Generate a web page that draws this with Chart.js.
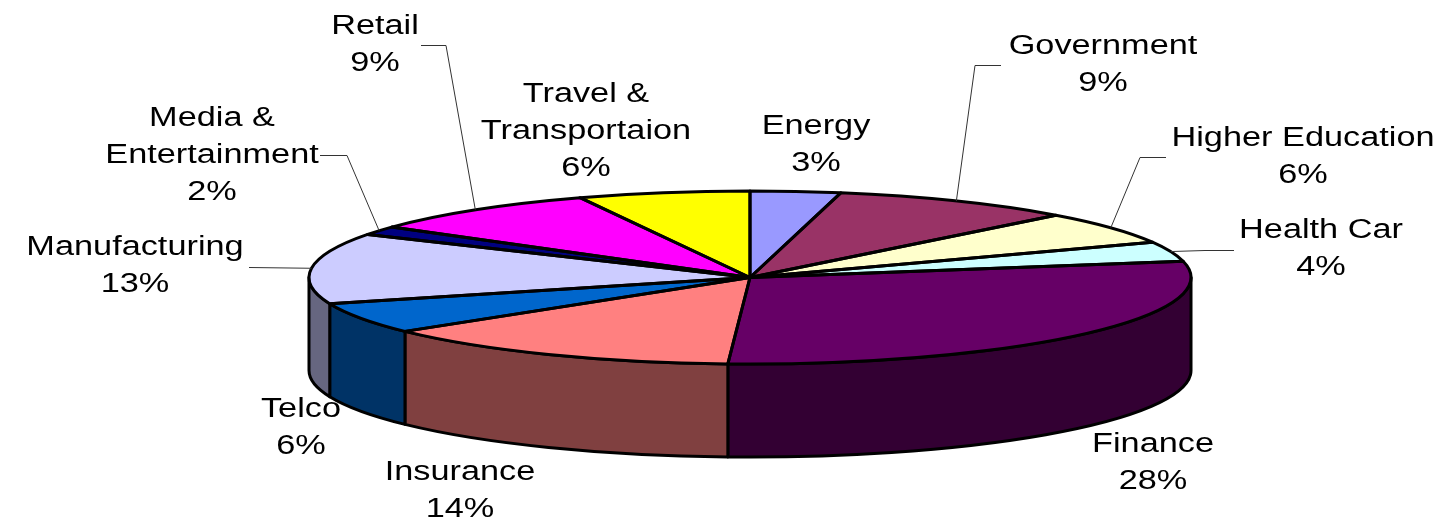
<!DOCTYPE html>
<html lang="en">
<head>
    <meta charset="UTF-8">
    <title>Industry Share</title>
    <script src="https://cdn.jsdelivr.net/npm/chart.js"></script>
    <style>
        body {
            margin: 0;
            background: #fff;
        }

        canvas {
            display: block;
        }
    </style>
</head>
<body>

    <canvas id="pieCanvas" width="1441" height="519"></canvas>

    <script>
        const categories = ["Energy", "Government", "Higher Education", "Health Car", "Finance", "Insurance", "Telco", "Manufacturing", "Media &\nEntertainment", "Retail", "Travel &\nTransportaion"];
        const percentLabels = ["3%", "9%", "6%", "4%", "28%", "14%", "6%", "13%", "2%", "9%", "6%"];
        // slice sizes, a bit finer than the rounded labels
        const shares = [3.3, 8.9, 6.1, 3.7, 28.8, 13.5, 5.8, 13.2, 1.6, 8.8, 6.3];

        const topColors = ["#9999FF", "#993366", "#FFFFCC", "#CCFFFF", "#660066", "#FF8080", "#0066CC", "#CCCCFF", "#000080", "#FF00FF", "#FFFF00"];
        const wallColors = ["#4C4C80", "#4C1933", "#808066", "#668080", "#330033", "#804040", "#003366", "#666680", "#000040", "#800080", "#808000"];

        // label centre x, first line y
        const labelSpots = [[816, 127], [1103, 47], [1303, 139], [1321, 231], [1153, 445], [460, 473], [301, 410], [135, 248], [212, 119], [375, 27], [586, 95]];
        // leader line: start, knee (only some slices have one)
        const leaders = {
            1: [[1001, 65], [975, 65]],
            2: [[1166, 157], [1140, 157]],
            3: [[1234, 250], [1205, 250]],
            7: [[249, 267], [249, 267]],
            8: [[320, 155], [347, 155]],
            9: [[421, 45], [446, 45]]
        };

        const pieX = 750, pieY = 277.5, pieRx = 441, pieRy = 86.5, pieDepth = 93;
        const lineGap = 37, textStretch = 1.27;

        function flatten(ctx, arc) {
            ctx.translate(pieX, pieY);
            ctx.scale(pieRx / arc.outerRadius, pieRy / arc.outerRadius);
            ctx.translate(-arc.x, -arc.y);
        }

        const tiltedPie = {
            id: "tiltedPie",
            beforeDatasetsDraw(chart) {
                const ctx = chart.ctx;
                const arcs = chart.getDatasetMeta(0).data;
                ctx.save();
                ctx.lineWidth = 3;
                ctx.lineJoin = "round";
                ctx.strokeStyle = "#000";
                arcs.forEach((arc, i) => {
                    // only the front half of the rim is visible
                    const from = Math.max(arc.startAngle, 0);
                    const to = Math.min(arc.endAngle, Math.PI);
                    if (to <= from) return;
                    ctx.beginPath();
                    ctx.ellipse(pieX, pieY, pieRx, pieRy, 0, from, to);
                    ctx.ellipse(pieX, pieY + pieDepth, pieRx, pieRy, 0, to, from, true);
                    ctx.closePath();
                    ctx.fillStyle = wallColors[i];
                    ctx.fill();
                    ctx.stroke();
                });
                ctx.restore();
                ctx.save();
                flatten(ctx, arcs[0]);
            },
            afterDatasetsDraw(chart) {
                const ctx = chart.ctx;
                const arcs = chart.getDatasetMeta(0).data;
                ctx.restore();

                ctx.save();
                ctx.lineWidth = 3;
                ctx.lineJoin = "round";
                ctx.strokeStyle = "#000";
                arcs.forEach(arc => {
                    ctx.beginPath();
                    ctx.moveTo(pieX, pieY);
                    ctx.ellipse(pieX, pieY, pieRx, pieRy, 0, arc.startAngle, arc.endAngle);
                    ctx.closePath();
                    ctx.stroke();
                });

                ctx.lineWidth = 1;
                ctx.strokeStyle = "#333";
                Object.keys(leaders).forEach(k => {
                    const arc = arcs[k];
                    const mid = (arc.startAngle + arc.endAngle) / 2;
                    ctx.beginPath();
                    ctx.moveTo(leaders[k][0][0], leaders[k][0][1] + 0.5);
                    ctx.lineTo(leaders[k][1][0], leaders[k][1][1] + 0.5);
                    ctx.lineTo(pieX + pieRx * Math.cos(mid), pieY + pieRy * Math.sin(mid));
                    ctx.stroke();
                });

                ctx.fillStyle = "#000";
                ctx.font = "27px 'Liberation Sans', Arial, sans-serif";
                ctx.textAlign = "center";
                ctx.textBaseline = "middle";
                categories.forEach((name, i) => {
                    const lines = name.split("\n").concat(percentLabels[i]);
                    lines.forEach((line, n) => {
                        ctx.save();
                        ctx.translate(labelSpots[i][0], labelSpots[i][1] + n * lineGap);
                        ctx.scale(textStretch, 1);
                        ctx.fillText(line, 0, 0);
                        ctx.restore();
                    });
                });
                ctx.restore();
            }
        };

        new Chart(document.getElementById("pieCanvas").getContext("2d"), {
            type: "pie",
            data: {
                labels: categories,
                datasets: [{
                    data: shares,
                    backgroundColor: topColors,
                    borderWidth: 0
                }]
            },
            options: {
                responsive: false,
                devicePixelRatio: 1,
                animation: false,
                plugins: {
                    legend: { display: false },
                    tooltip: { enabled: false }
                }
            },
            plugins: [tiltedPie]
        });
    </script>

</body>
</html>
